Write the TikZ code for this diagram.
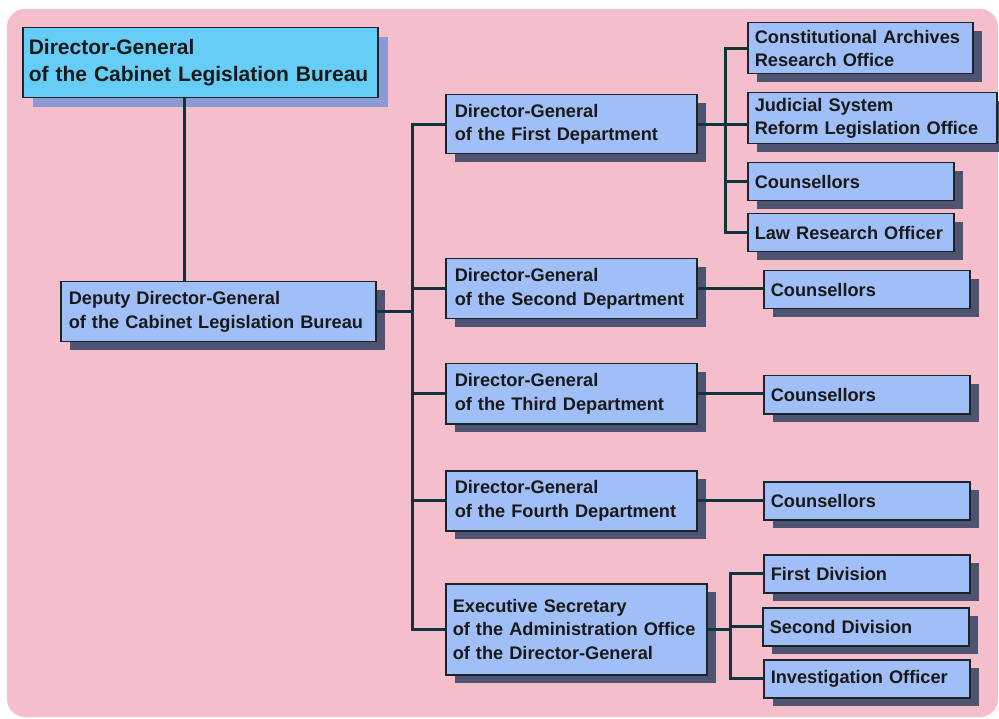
\documentclass[tikz,border=0pt]{standalone}
\usepackage{fontspec}
\setmainfont{Liberation Sans}
\usetikzlibrary{shadows}

\definecolor{pinkbg}{HTML}{F4BFCB}
\definecolor{boxblue}{HTML}{A0BFF8}
\definecolor{topblue}{HTML}{66CEF6}
\definecolor{shade}{HTML}{4F5372}
\definecolor{topshade}{HTML}{8A9BD4}
\definecolor{edge}{HTML}{1B2428}
\definecolor{linkc}{HTML}{10343C}

\tikzset{
  base/.style={draw=edge, line width=1.5pt, anchor=north west, align=left,
    inner ysep=0pt, text=black!90,
    execute at begin node={\hyphenpenalty=10000\exhyphenpenalty=10000}},
  box/.style={base, fill=boxblue, inner xsep=7pt,
    font=\bfseries\fontsize{18.2}{23.5}\selectfont,
    drop shadow={shadow xshift=9pt, shadow yshift=-8pt, fill=shade, opacity=1}},
  topbox/.style={base, fill=topblue, inner xsep=6pt,
    font=\bfseries\fontsize{21}{27}\selectfont,
    drop shadow={shadow xshift=10pt, shadow yshift=-9pt, fill=topshade, opacity=1}},
  dept/.style={box, inner xsep=9pt, minimum width=251pt, text width=233pt, minimum height=60pt},
  unit/.style={box, minimum width=206pt, text width=192pt, minimum height=38pt},
  link/.style={draw=linkc, line width=3pt},
}

\begin{document}
\begin{tikzpicture}[x=1pt,y=-1pt]
  \useasboundingbox (0,0) rectangle (999,719);
  \fill[pinkbg, rounded corners=18pt] (7,9) rectangle (998,717);

  % bureau heads
  \node[topbox, minimum width=355pt, minimum height=70pt, text width=343pt] (dg) at (22,27)
    {Director-General\\of the Cabinet Legislation Bureau};
  \node[box, inner xsep=8pt, minimum width=315pt, minimum height=60pt, text width=299pt] (ddg) at (60,281)
    {Deputy Director-General\\of the Cabinet Legislation Bureau};

  % departments
  \node[dept, minimum height=59pt] (dept1) at (445,94) {Director-General\\of the First Department};
  \node[dept] (dept2) at (445,258) {Director-General\\of the Second Department};
  \node[dept] (dept3) at (445,363) {Director-General\\of the Third Department};
  \node[dept] (dept4) at (445,470) {Director-General\\of the Fourth Department};
  \node[box, minimum width=261pt, minimum height=91pt, text width=247pt] (exec) at (445,583)
    {Executive Secretary\\of the Administration Office\\of the Director-General};

  % offices
  \node[box, minimum width=225pt, text width=211pt, minimum height=51pt] (arch) at (747,22)
    {Constitutional Archives\\Research Office};
  \node[box, minimum width=249pt, text width=235pt, minimum height=51pt] (jud) at (747,92)
    {Judicial System\\Reform Legislation Office};
  \node[unit] (cns1) at (747,162) {Counsellors};
  \node[unit] (law) at (747,213) {Law Research Officer};
  \node[unit] (cns2) at (763,270) {Counsellors};
  \node[unit] (cns3) at (763,375) {Counsellors};
  \node[unit] (cns4) at (763,481) {Counsellors};
  \node[unit] (div1) at (763,554) {First Division};
  \node[unit] (div2) at (762,607) {Second Division};
  \node[unit] (inv) at (763,659) {Investigation Officer};

  % connectors
  \coordinate (spine) at (184,0);
  \coordinate (trunk) at (412,0);
  \coordinate (sub1) at (725,0);
  \coordinate (sub2) at (730,0);

  \draw[link] (dg.south -| spine) -- (ddg.north -| spine);
  \draw[link] (ddg.east) -- (ddg.east -| trunk);
  \draw[link] (dept1.west) -- (dept1.west -| trunk) -- (exec.west -| trunk) -- (exec.west);
  \foreach \d in {dept2,dept3,dept4}
    \draw[link] (\d.west -| trunk) -- (\d.west);

  \draw[link] (arch.west) -- (arch.west -| sub1) -- (law.west -| sub1) -- (law.west);
  \draw[link] (cns1.west -| sub1) -- (cns1.west);
  \draw[link] (dept1.east) -- (dept1.east -| jud.west);

  \foreach \d/\c in {dept2/cns2,dept3/cns3,dept4/cns4}
    \draw[link] (\d.east) -- (\d.east -| \c.west);

  \draw[link] (div1.west) -- (div1.west -| sub2) -- (inv.west -| sub2) -- (inv.west);
  \draw[link] (div2.west -| sub2) -- (div2.west);
  \draw[link] (exec.east) -- (exec.east -| sub2);
\end{tikzpicture}
\end{document}
